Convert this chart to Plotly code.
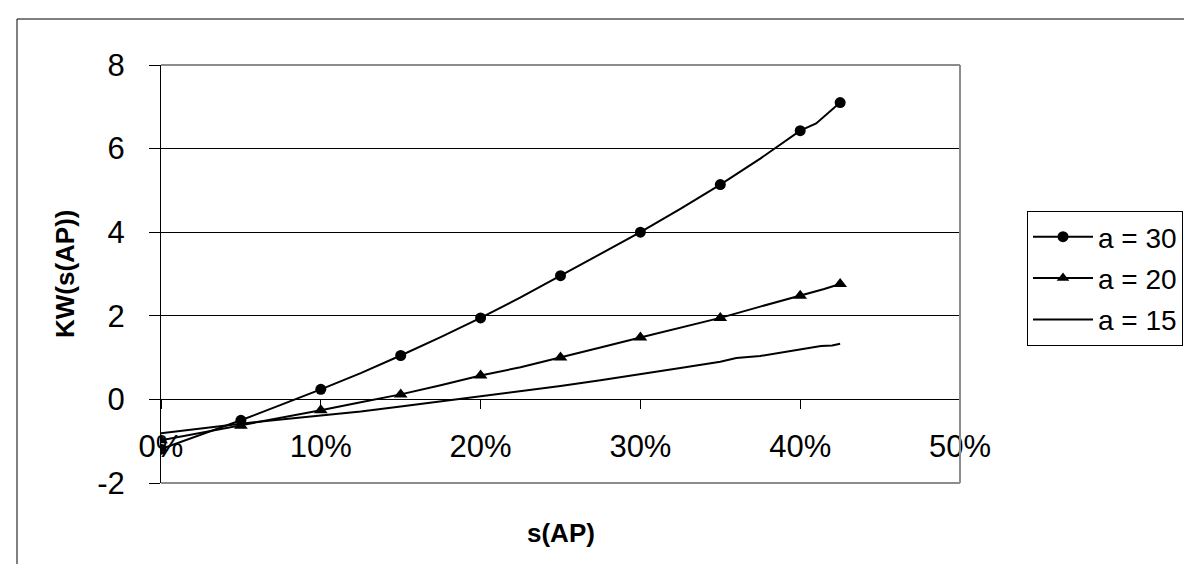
import plotly.graph_objects as go

# ---- data ----
s30 = [0.0, 0.025, 0.05, 0.075, 0.10, 0.125, 0.15, 0.175, 0.20, 0.225, 0.25, 0.275,
       0.30, 0.325, 0.35, 0.375, 0.40, 0.41, 0.425]
kw30 = [-1.19, -0.85, -0.50, -0.13, 0.24, 0.63, 1.05, 1.49, 1.95, 2.44, 2.96, 3.47,
        4.00, 4.56, 5.14, 5.76, 6.43, 6.60, 7.10]
s30_marks = [0.0, 0.05, 0.10, 0.15, 0.20, 0.25, 0.30, 0.35, 0.40, 0.425]
kw30_marks = [-1.19, -0.50, 0.24, 1.05, 1.95, 2.96, 4.00, 5.14, 6.43, 7.10]

s20 = [0.0, 0.025, 0.05, 0.075, 0.10, 0.125, 0.15, 0.175, 0.20, 0.225, 0.25, 0.275,
       0.30, 0.325, 0.35, 0.375, 0.40, 0.415, 0.425]
kw20 = [-0.98, -0.80, -0.63, -0.45, -0.26, -0.07, 0.12, 0.34, 0.57, 0.77, 1.00, 1.24,
        1.48, 1.71, 1.95, 2.22, 2.48, 2.64, 2.76]
s20_marks = [0.0, 0.05, 0.10, 0.15, 0.20, 0.25, 0.30, 0.35, 0.40, 0.425]
kw20_marks = [-0.98, -0.63, -0.26, 0.12, 0.57, 1.00, 1.48, 1.95, 2.48, 2.76]

s15 = [0.0, 0.025, 0.05, 0.075, 0.10, 0.125, 0.15, 0.175, 0.20, 0.225, 0.25, 0.275,
       0.30, 0.325, 0.35, 0.36, 0.375, 0.39, 0.40, 0.413, 0.42, 0.425]
kw15 = [-0.81, -0.69, -0.58, -0.48, -0.39, -0.29, -0.17, -0.05, 0.08, 0.19, 0.32, 0.46,
        0.60, 0.75, 0.90, 0.99, 1.04, 1.14, 1.19, 1.28, 1.29, 1.33]

series_names = ["a = 30", "a = 20", "a = 15"]

y_tickvals = [-2, 0, 2, 4, 6, 8]
y_ticktext = ["-2", "0", "2", "4", "6", "8"]
x_tickvals = [0.0, 0.1, 0.2, 0.3, 0.4, 0.5]
x_ticktext = ["0%", "10%", "20%", "30%", "40%", "50%"]

FONT = "Liberation Sans, Arial, sans-serif"
BLACK = "#000000"

fig = go.Figure()

# dense lines
for sx, sy in [(s30, kw30), (s20, kw20), (s15, kw15)]:
    fig.add_trace(go.Scatter(x=sx, y=sy, mode="lines",
                             line=dict(color=BLACK, width=2),
                             showlegend=False, hoverinfo="skip"))
# markers
fig.add_trace(go.Scatter(x=s30_marks, y=kw30_marks, mode="markers",
                         marker=dict(symbol="circle", size=11, color=BLACK),
                         showlegend=False))
fig.add_trace(go.Scatter(x=s20_marks, y=kw20_marks, mode="markers",
                         marker=dict(symbol="triangle-up", size=12, color=BLACK),
                         showlegend=False))
# legend entries
fig.add_trace(go.Scatter(x=[None], y=[None], mode="lines+markers", name=series_names[0],
                         line=dict(color=BLACK, width=2),
                         marker=dict(symbol="circle", size=11, color=BLACK),
                         legendgroup="g1"))
fig.add_trace(go.Scatter(x=[None], y=[None], mode="lines+markers", name=series_names[1],
                         line=dict(color=BLACK, width=2),
                         marker=dict(symbol="triangle-up", size=11, color=BLACK),
                         legendgroup="g2"))
fig.add_trace(go.Scatter(x=[None], y=[None], mode="lines", name=series_names[2],
                         line=dict(color=BLACK, width=2),
                         legendgroup="g3"))

L, R, T, B = 153, 952, 57, 475
W, H = 1192, 564
pw, ph = R - L, B - T

def px_x(p):
    return (p - L) / pw

def px_y(p):
    return (B - p) / ph

GRAY = "#8c8c8c"
shapes = [
    # outer chart border
    dict(type="rect", xref="paper", yref="paper", x0=px_x(9), x1=px_x(1205),
         y0=px_y(590), y1=px_y(11), line=dict(color=BLACK, width=1), layer="below"),
    # plot area border (top, right, bottom)
    dict(type="line", xref="paper", yref="paper", x0=0, x1=1, y0=1, y1=1,
         line=dict(color=GRAY, width=2)),
    dict(type="line", xref="paper", yref="paper", x0=1, x1=1, y0=0, y1=1,
         line=dict(color=GRAY, width=2)),
    dict(type="line", xref="paper", yref="paper", x0=0, x1=1, y0=0, y1=0,
         line=dict(color=GRAY, width=2)),
]

fig.update_layout(
    width=W, height=H,
    margin=dict(l=L, r=W - R, t=T, b=H - B, pad=0),
    paper_bgcolor="white", plot_bgcolor="white",
    font=dict(family=FONT, color=BLACK, size=26),
    showlegend=True,
    legend=dict(x=px_x(1019), y=px_y(203), xanchor="left", yanchor="top",
                bordercolor=BLACK, borderwidth=1, bgcolor="white",
                font=dict(size=28, family=FONT), traceorder="grouped",
                tracegroupgap=2, itemwidth=60),
    shapes=shapes,
    xaxis=dict(range=[0, 0.5], tickvals=x_tickvals, ticktext=x_ticktext,
               anchor="free", position=0.2, showline=True, linecolor=BLACK,
               linewidth=1, ticks="outside", ticklen=9, tickcolor=BLACK,
               showgrid=False, zeroline=False, tickfont=dict(size=31),
               ticklabelstandoff=10),
    yaxis=dict(range=[-2, 8], tickvals=y_tickvals, ticktext=y_ticktext,
               showline=True, linecolor=BLACK, linewidth=1, ticks="outside",
               ticklen=11, tickcolor=BLACK, showgrid=True, gridcolor=BLACK,
               gridwidth=1, zeroline=False, tickfont=dict(size=31),
               ticklabelstandoff=18),
    annotations=[
        dict(text="<b>s(AP)</b>", xref="paper", yref="paper", x=0.5, y=px_y(525),
             xanchor="center", yanchor="middle", showarrow=False,
             font=dict(size=26)),
        dict(text="<b>KW(s(AP))</b>", xref="paper", yref="paper", x=px_x(57), y=0.5,
             xanchor="center", yanchor="middle", showarrow=False, textangle=-90,
             font=dict(size=26)),
    ],
)

fig.write_html("out.html")
